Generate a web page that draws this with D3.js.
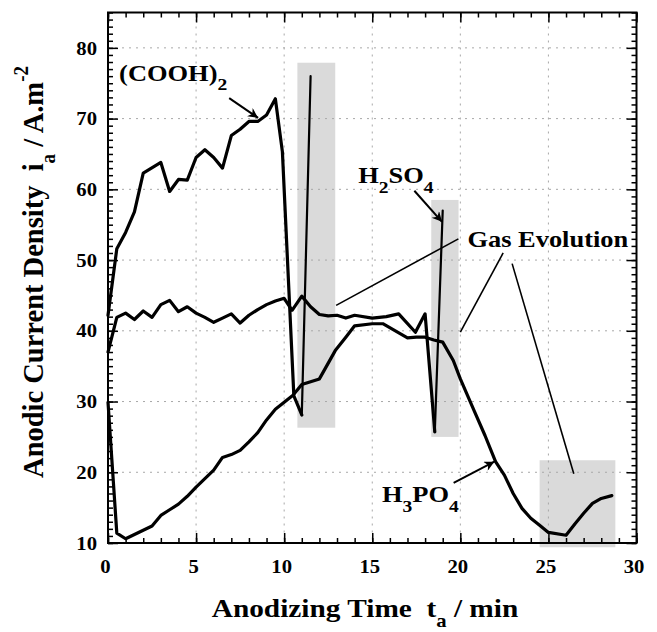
<!DOCTYPE html>
<html>
<head>
<meta charset="utf-8">
<script src="https://cdn.jsdelivr.net/npm/d3@7"></script>
<style>
  body { margin: 0; background: #fff; }
  text { font-family: "Liberation Serif", "Times New Roman", serif; font-weight: bold; fill: #000; white-space: pre; }
</style>
</head>
<body>
<svg id="chart" width="657" height="632"></svg>
<script>
// ---- data ----
var coohT = [0, 0.5, 1, 1.5, 2, 3, 3.5, 4, 4.5, 5, 5.5, 6, 6.5, 7, 7.5, 8, 8.5, 9, 9.5, 9.9, 10.55, 11.0, 11.5];
var coohI = [42.2, 51.6, 53.9, 56.8, 62.3, 63.8, 59.7, 61.4, 61.3, 64.5, 65.6, 64.5, 63.0, 67.6, 68.5, 69.6, 69.6, 70.5, 72.8, 65.3, 30.8, 28.1, 76.0];

var sulfT = [0, 0.5, 1, 1.5, 2, 2.5, 3, 3.5, 4, 4.5, 5, 5.5, 6, 6.5, 7, 7.5, 8, 8.5, 9, 9.5, 10, 10.45, 11, 11.5, 12, 12.5, 13, 13.5, 14, 15, 15.8, 16.5, 17.45, 18.0, 18.55, 19.0];
var sulfI = [37.0, 41.9, 42.5, 41.6, 42.8, 41.9, 43.7, 44.3, 42.7, 43.4, 42.5, 41.9, 41.2, 41.8, 42.4, 41.1, 42.2, 43.0, 43.7, 44.2, 44.6, 42.9, 44.9, 43.4, 42.3, 42.1, 42.2, 41.8, 42.2, 41.8, 42.0, 42.4, 39.8, 42.4, 25.7, 57.0];

var phosT = [0, 0.5, 1, 1.5, 2, 2.5, 3, 3.5, 4, 4.5, 5, 5.5, 6, 6.5, 7, 7.5, 8, 8.5, 9, 9.5, 10, 10.5, 11, 12, 12.9, 13.5, 14, 15, 15.6, 17, 17.5, 18, 18.5, 19, 19.6, 20, 20.8, 21.4, 22, 22.5, 23, 23.5, 24, 24.5, 25, 26, 26.5, 27, 27.5, 28, 28.6];
var phosI = [29.9, 11.4, 10.6, 11.2, 11.8, 12.4, 13.9, 14.7, 15.5, 16.6, 17.9, 19.1, 20.3, 22.1, 22.5, 23.1, 24.3, 25.6, 27.4, 28.9, 29.9, 30.9, 32.4, 33.2, 37.2, 39.1, 40.7, 41.0, 41.0, 39.0, 39.1, 39.1, 38.7, 38.4, 35.8, 33.2, 28.6, 25.2, 21.5, 19.6, 17.0, 14.9, 13.5, 12.5, 11.5, 11.1, 12.7, 14.2, 15.6, 16.3, 16.7];

// shaded "gas evolution" windows
var boxT0 = [10.75, 18.35, 24.5];
var boxT1 = [12.9, 19.9, 28.8];
var boxI0 = [26.3, 25.0, 9.4];
var boxI1 = [77.9, 58.5, 21.7];

var xTicks = [0, 5, 10, 15, 20, 25, 30];
var yTicks = [10, 20, 30, 40, 50, 60, 70, 80];

// ---- layout ----
var width = 657, height = 632;
var plot = {left: 108, right: 636.5, top: 12.5, bottom: 543};
var sx = 1.15; // the figure's text is stretched sideways

var svg = d3.select("#chart");

var x = d3.scaleLinear().domain([0, 30]).range([plot.left, plot.right]);
var y = d3.scaleLinear().domain([10, 85]).range([plot.bottom, plot.top]);

function zip(ts, is) { return ts.map(function (t, k) { return [t, is[k]]; }); }

// shaded boxes
svg.append("g").selectAll("rect")
    .data(boxT0)
    .enter().append("rect")
    .attr("x", function (d) { return x(d); })
    .attr("width", function (d, k) { return x(boxT1[k]) - x(d); })
    .attr("y", function (d, k) { return y(boxI1[k]); })
    .attr("height", function (d, k) { return y(boxI0[k]) - y(boxI1[k]); })
    .attr("fill", "#dadada");

// dotted grid
var grid = svg.append("g").attr("stroke", "#a8a8a8").attr("stroke-width", 1).attr("stroke-dasharray", "2,5");
grid.selectAll(".gx").data(xTicks.slice(1, -1)).enter().append("line")
    .attr("x1", function (d) { return x(d); }).attr("x2", function (d) { return x(d); })
    .attr("y1", plot.top).attr("y2", plot.bottom);
grid.selectAll(".gy").data(yTicks.slice(1)).enter().append("line")
    .attr("y1", function (d) { return y(d); }).attr("y2", function (d) { return y(d); })
    .attr("x1", plot.left).attr("x2", plot.right);

// curves
var line = d3.line().x(function (d) { return x(d[0]); }).y(function (d) { return y(d[1]); });
var curves = svg.append("g").attr("fill", "none").attr("stroke", "#000")
    .attr("stroke-linejoin", "round").attr("stroke-linecap", "round");

[[coohT, coohI], [sulfT, sulfI], [phosT, phosI]].forEach(function (s, k) {
    var pts = zip(s[0], s[1]);
    var main = k < 2 ? pts.slice(0, -1) : pts;
    curves.append("path").attr("d", line(main)).attr("stroke-width", 3.2);
    if (k < 2) {
        // thin spike at the end of the trace
        curves.append("path").attr("d", line(pts.slice(-2))).attr("stroke-width", 2.2);
    }
});

// axes: ticks inward on all four sides
function styleAxis(g) {
    g.select(".domain").remove();
    g.selectAll("line").attr("stroke", "#000").attr("stroke-width", 1.5);
}
var minorX = d3.range(0, 31, 1), minorY = d3.range(10, 86, 1);

svg.append("g").attr("transform", "translate(0," + plot.bottom + ")")
    .call(d3.axisBottom(x).tickValues(minorX).tickSize(-5).tickFormat("")).call(styleAxis);
svg.append("g").attr("transform", "translate(0," + plot.top + ")")
    .call(d3.axisTop(x).tickValues(minorX).tickSize(-5).tickFormat("")).call(styleAxis);
svg.append("g").attr("transform", "translate(" + plot.left + ",0)")
    .call(d3.axisLeft(y).tickValues(minorY).tickSize(-5).tickFormat("")).call(styleAxis);
svg.append("g").attr("transform", "translate(" + plot.right + ",0)")
    .call(d3.axisRight(y).tickValues(minorY).tickSize(-5).tickFormat("")).call(styleAxis);

svg.append("g").attr("transform", "translate(0," + plot.top + ")")
    .call(d3.axisTop(x).tickValues(xTicks).tickSize(-10).tickFormat("")).call(styleAxis);
svg.append("g").attr("transform", "translate(" + plot.right + ",0)")
    .call(d3.axisRight(y).tickValues(yTicks).tickSize(-10).tickFormat("")).call(styleAxis);

var xAxis = svg.append("g").attr("transform", "translate(0," + plot.bottom + ")")
    .call(d3.axisBottom(x).tickValues(xTicks).tickSize(-10).tickPadding(0).tickFormat(d3.format("d")))
    .call(styleAxis);
xAxis.selectAll("text").attr("font-size", 18).attr("y", 30).attr("dy", 0).attr("x", -3 / sx)
    .attr("transform", "scale(" + sx + ",1)").attr("fill", "#000")
    .attr("font-family", "Liberation Serif").attr("font-weight", "bold");

var yAxis = svg.append("g").attr("transform", "translate(" + plot.left + ",0)")
    .call(d3.axisLeft(y).tickValues(yTicks).tickSize(-10).tickPadding(0).tickFormat(d3.format("d")))
    .call(styleAxis);
yAxis.selectAll("text").attr("font-size", 18).attr("x", -11 / sx).attr("dy", "0.34em")
    .attr("transform", "scale(" + sx + ",1)").attr("fill", "#000")
    .attr("font-family", "Liberation Serif").attr("font-weight", "bold");

// frame
svg.append("rect").attr("x", plot.left).attr("y", plot.top)
    .attr("width", plot.right - plot.left).attr("height", plot.bottom - plot.top)
    .attr("fill", "none").attr("stroke", "#000").attr("stroke-width", 2);

// rich text helper: parts = [[text, "sub"|"sup"|null], ...]
function richText(parent, px, py, parts, size, opts) {
    opts = opts || {};
    var stretch = opts.stretch || sx;
    var t = parent.append("text")
        .attr("font-size", size)
        .attr("text-anchor", opts.anchor || "start")
        .attr("transform", "translate(" + px + "," + py + ")" +
            (opts.rotate ? " rotate(-90) scale(1," + stretch + ")" : " scale(" + stretch + ",1)"));
    var shift = 0;
    parts.forEach(function (p) {
        var target = p[1] === "sub" ? (opts.subShift || 9) : p[1] === "sup" ? -(opts.supShift || 11) : 0;
        t.append("tspan")
            .attr("dy", target - shift)
            .attr("font-size", p[1] ? (opts.smallSize || size * 0.72) : size)
            .text(p[0]);
        shift = target;
    });
    return t;
}

// axis titles
richText(svg, 365, 617, [["Anodizing Time  t", null], ["a", "sub"], [" / min", null]], 25.5,
    {anchor: "middle", subShift: 10, smallSize: 18});
richText(svg, 43, 272, [["Anodic Current Density  i", null], ["a", "sub"], [" / A.m", null], ["-2", "sup"]], 28.5,
    {anchor: "middle", rotate: true, stretch: 1.05, subShift: 11, supShift: 14, smallSize: 19});

// annotations
var ann = svg.append("g");
richText(ann, x(0.63), y(75.3), [["(COOH)", null], ["2", "sub"]], 23, {smallSize: 17});
richText(ann, x(14.2), y(60.95), [["H", null], ["2", "sub"], ["SO", null], ["4", "sub"]], 23, {smallSize: 17, subShift: 10});
richText(ann, x(20.4), y(51.8), [["Gas Evolution", null]], 23);
richText(ann, x(15.55), y(15.83), [["H", null], ["3", "sub"], ["PO", null], ["4", "sub"]], 23, {smallSize: 17, subShift: 10});

svg.append("defs").append("marker")
    .attr("id", "arrow").attr("viewBox", "0 0 10 10").attr("refX", 10).attr("refY", 5)
    .attr("markerUnits", "userSpaceOnUse").attr("markerWidth", 13).attr("markerHeight", 10)
    .attr("orient", "auto")
    .append("path").attr("d", "M0,0 L10,5 L0,10 L3,5 Z").attr("fill", "#000");

var arrows = [
    [[6.88, 72.9], [8.52, 70.1]],
    [[17.39, 59.8], [18.96, 55.4]],
    [[19.62, 18.5], [21.93, 21.5]]
];
ann.selectAll(".arr").data(arrows).enter().append("line")
    .attr("x1", function (d) { return x(d[0][0]); }).attr("y1", function (d) { return y(d[0][1]); })
    .attr("x2", function (d) { return x(d[1][0]); }).attr("y2", function (d) { return y(d[1][1]); })
    .attr("stroke", "#000").attr("stroke-width", 2).attr("marker-end", "url(#arrow)");

var leaders = [
    [[19.89, 53.0], [12.95, 43.6]],
    [[22.43, 51.0], [20.0, 39.8]],
    [[22.94, 49.5], [26.44, 19.8]]
];
ann.selectAll(".lead").data(leaders).enter().append("line")
    .attr("x1", function (d) { return x(d[0][0]); }).attr("y1", function (d) { return y(d[0][1]); })
    .attr("x2", function (d) { return x(d[1][0]); }).attr("y2", function (d) { return y(d[1][1]); })
    .attr("stroke", "#000").attr("stroke-width", 1.6);
</script>
</body>
</html>
